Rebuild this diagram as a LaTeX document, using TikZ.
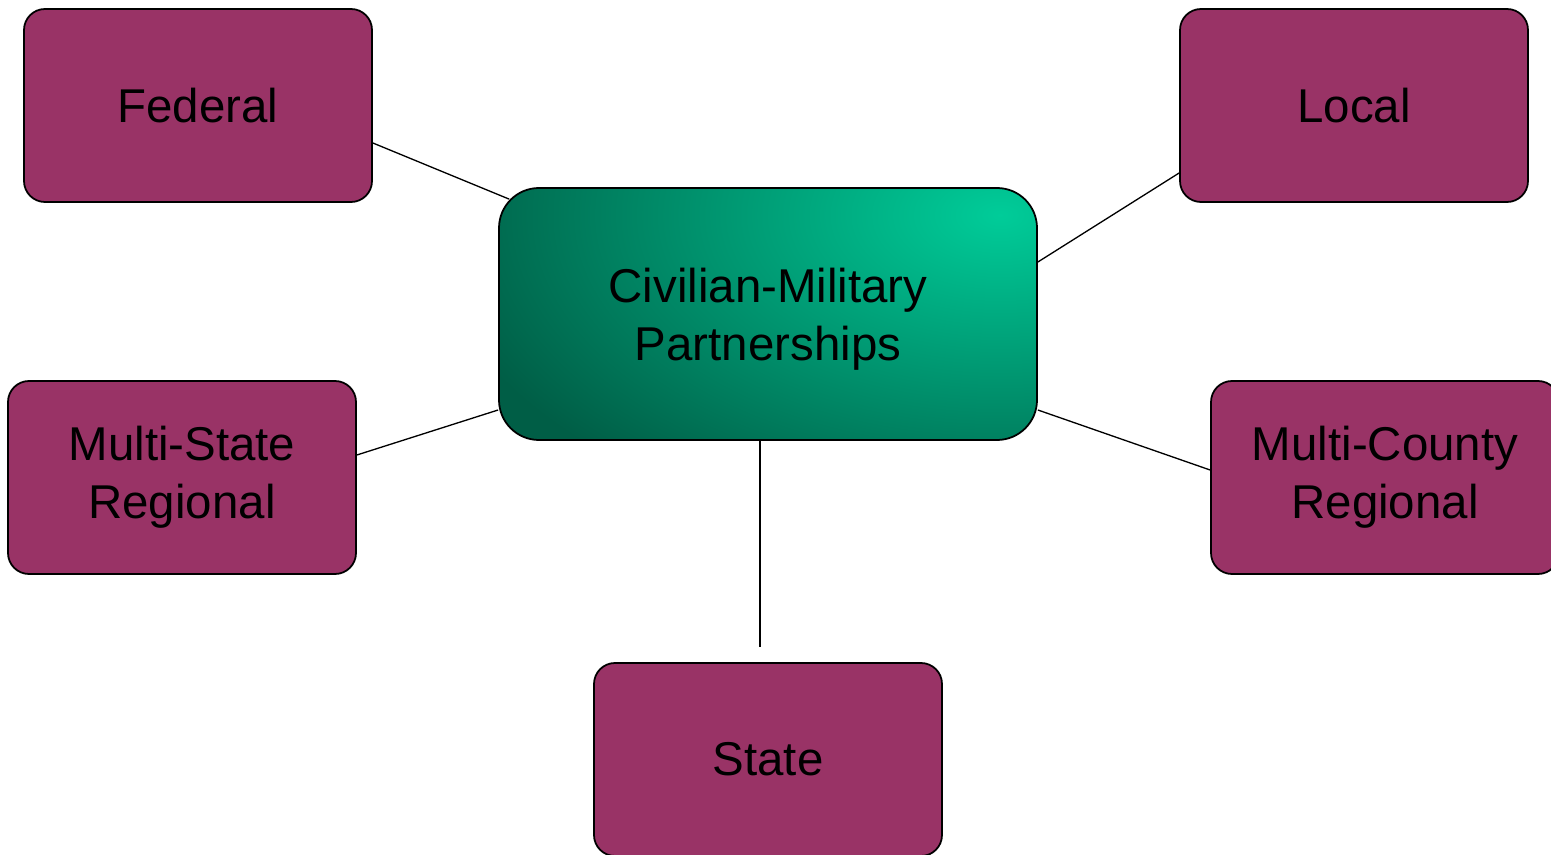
\documentclass[tikz,border=0pt]{standalone}
\usepackage{fontspec}
\setmainfont{Liberation Sans}
\usetikzlibrary{calc}
\definecolor{boxColor}{RGB}{153,51,102}
\definecolor{darkGreen}{RGB}{0,94,70}
\definecolor{lightGreen}{RGB}{0,204,153}
\tikzset{
  level/.style={draw=black,line width=1pt,fill=boxColor,rounded corners=0.42cm,
    minimum width=6.96cm,minimum height=3.86cm,align=center,inner sep=0pt,
    font=\fontsize{27}{33}\selectfont},
  hub/.style={draw=black,line width=1pt,fill=darkGreen,rounded corners=0.8cm,
    minimum width=10.76cm,minimum height=5.04cm,align=center,inner sep=0pt,
    text depth=0pt,font=\fontsize{27}{33}\selectfont,
    path picture={\shade[inner color=lightGreen,outer color=darkGreen]
      ($(path picture bounding box.north east)+(-0.74,-0.54)$) ellipse (11.5cm and 6.6cm);}},
  link/.style={line width=0.75pt}
}
\begin{document}
\begin{tikzpicture}
      \useasboundingbox (0,0) rectangle (31.02,17.08);
      \node [hub] (ctr) at (15.36,10.8) {Civilian-Military\\Partnerships};
      \node [level] (fed) at (3.96,14.97) {Federal};
      \node [level] (loc) at (27.08,14.97) {Local};
      \node [level] (mstate) at (3.64,7.53) {Multi-State\\Regional};
      \node [level] (mcounty) at (27.7,7.53) {Multi-County\\Regional};
      \node [level] (state) at (15.36,1.89) {State};
      \draw [link] ($(fed.east)+(0,-0.75)$) -- ($(ctr.north west)+(0.22,-0.24)$);
      \draw [link] ($(loc.west)+(0,-1.35)$) -- ($(ctr.east)+(0,1.04)$);
      \draw [link] ($(mstate.east)+(0,0.45)$) -- ($(ctr.west)+(0,-1.92)$);
      \draw [link] ($(mcounty.west)+(0,0.15)$) -- ($(ctr.east)+(0,-1.92)$);
      \draw [link] ($(ctr.south)+(-0.16,0)$) -- ($(state.north)+(-0.16,0.3)$);
\end{tikzpicture}
\end{document}
